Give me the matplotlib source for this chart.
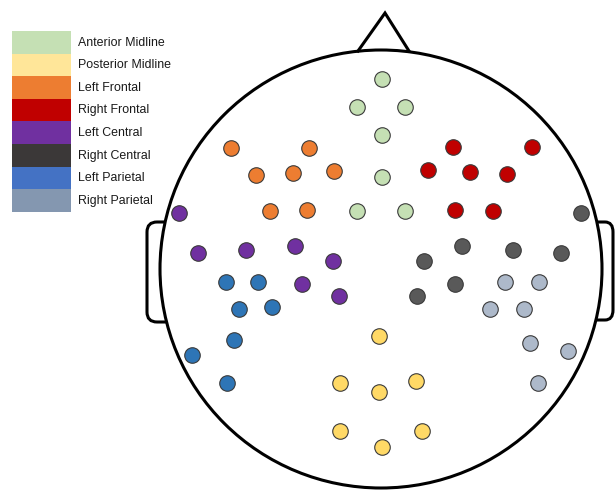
import numpy as np
import matplotlib.pyplot as plt
from matplotlib.patches import Ellipse, Rectangle, PathPatch
from matplotlib.path import Path

plt.rcParams['font.family'] = ['Liberation Sans', 'DejaVu Sans']

# Region names, legend colours and dot colours
regions = ['Anterior Midline', 'Posterior Midline', 'Left Frontal', 'Right Frontal',
           'Left Central', 'Right Central', 'Left Parietal', 'Right Parietal']
legend_colors = ['#c5e0b4', '#ffe699', '#ed7d31', '#c00000',
                 '#7030a0', '#3b3838', '#4472c4', '#8497b0']
dot_colors = ['#c5e0b4', '#ffd966', '#ed7d31', '#c00000',
              '#7030a0', '#595959', '#2e75b6', '#adb9ca']

# Electrode positions (pixel coords of the scalp map)
ant_mid_x = [382, 357, 405, 382, 382, 357, 405]
ant_mid_y = [79, 107, 107, 135, 177, 211, 211]
post_mid_x = [379, 340, 379, 416, 340, 382, 422]
post_mid_y = [336, 383, 392, 381, 431, 447, 431]
l_front_x = [231, 309, 256, 293, 334, 270, 307]
l_front_y = [148, 148, 175, 173, 171, 211, 210]
r_front_x = [453, 532, 428, 470, 507, 455, 493]
r_front_y = [147, 147, 170, 172, 174, 210, 211]
l_cent_x = [179, 198, 246, 295, 333, 302, 339]
l_cent_y = [213, 253, 250, 246, 261, 284, 296]
r_cent_x = [581, 462, 513, 561, 424, 455, 417]
r_cent_y = [213, 246, 250, 253, 261, 284, 296]
l_par_x = [226, 258, 239, 272, 234, 192, 227]
l_par_y = [282, 282, 309, 307, 340, 355, 383]
r_par_x = [505, 539, 490, 524, 530, 568, 538]
r_par_y = [282, 282, 309, 309, 343, 351, 383]

xs = [ant_mid_x, post_mid_x, l_front_x, r_front_x, l_cent_x, r_cent_x, l_par_x, r_par_x]
ys = [ant_mid_y, post_mid_y, l_front_y, r_front_y, l_cent_y, r_cent_y, l_par_y, r_par_y]

fig = plt.figure(figsize=(6.15, 4.91), dpi=100)
ax = fig.add_axes([0, 0, 1, 1])
ax.set_xlim(0, 615)
ax.set_ylim(491, 0)
ax.axis('off')

# head outline
ax.add_patch(Ellipse((381, 269), 442, 438, fill=False, lw=2.2, color='black', zorder=2))
# nose
ax.plot([358, 385, 409], [51, 13, 51], color='black', lw=2.2, solid_joinstyle='miter', zorder=2)
# ears
codes = [Path.MOVETO, Path.LINETO, Path.CURVE3, Path.CURVE3, Path.LINETO,
         Path.CURVE3, Path.CURVE3, Path.LINETO]
left_ear = Path([(166, 222), (157, 222), (147, 222), (147, 232), (147, 312),
                 (147, 322), (157, 322), (167, 322)], codes)
right_ear = Path([(598, 222), (605, 222), (613, 222), (613, 232), (613, 310),
                  (613, 320), (605, 320), (597, 320)], codes)
for p in (left_ear, right_ear):
    ax.add_patch(PathPatch(p, fill=False, lw=2.2, color='black', zorder=2))

# electrodes
for x, y, c in zip(xs, ys, dot_colors):
    ax.scatter(x, y, s=125, color=c, edgecolor='#3a3a3a', linewidth=0.8, zorder=3)

# legend swatches
for i, (name, c) in enumerate(zip(regions, legend_colors)):
    top = 31 + i * 22.6
    ax.add_patch(Rectangle((12, top), 59, 22.6, facecolor=c, edgecolor='none', zorder=2))
    ax.text(78, top + 11.5, name, fontsize=8.9, va='center', ha='left', color='#1a1a1a')

fig.savefig('out.png', dpi=100)
